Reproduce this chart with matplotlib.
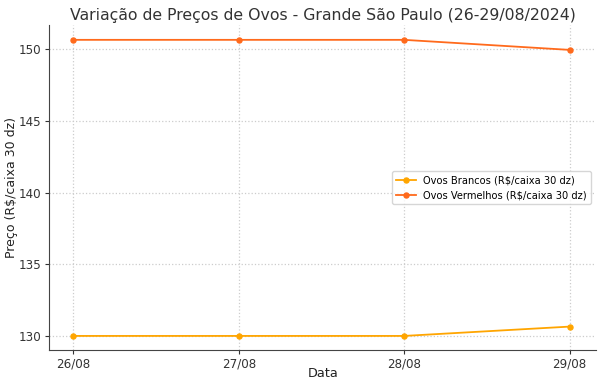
import matplotlib
matplotlib.use("Agg")
from matplotlib import pyplot as plt

datas = ['26/08', '27/08', '28/08', '29/08']
brancos = [130.0, 130.0, 130.0, 130.65]
vermelhos = [150.65, 150.65, 150.65, 149.95]

fig, ax = plt.subplots(figsize=(6.02, 3.88), dpi=100)
ax.plot(datas, brancos, color='#ffa500', marker='o', markersize=3.6, linewidth=1.3,
        label='Ovos Brancos (R$/caixa 30 dz)')
ax.plot(datas, vermelhos, color='#ff6a1c', marker='o', markersize=3.6, linewidth=1.3,
        label='Ovos Vermelhos (R$/caixa 30 dz)')

ax.set_title('Variação de Preços de Ovos - Grande São Paulo (26-29/08/2024)',
             fontsize=11.3, color='#333333', pad=4)
ax.set_xlabel('Data', fontsize=9.3, color='#222222')
ax.set_ylabel('Preço (R$/caixa 30 dz)', fontsize=9.0, color='#222222')
ax.xaxis.set_label_coords(0.5, -0.052)
ax.yaxis.set_label_coords(-0.058, 0.5)
ax.set_yticks([130, 135, 140, 145, 150])
ax.set_ylim(129.02, 151.67)
ax.set_xlim(-0.145, 3.16)
ax.tick_params(labelsize=8.6, colors='#333333', length=3, pad=2.5)
ax.grid(True, linestyle=':', color='#cccccc', linewidth=0.9)
for side in ['top', 'right']:
    ax.spines[side].set_visible(False)
for side in ['left', 'bottom']:
    ax.spines[side].set_color('#444444')
ax.legend(loc='center right', fontsize=7.1, bbox_to_anchor=(1.0, 0.5))

fig.subplots_adjust(left=0.082, right=0.99, top=0.935, bottom=0.098)
fig.savefig('out.png')
